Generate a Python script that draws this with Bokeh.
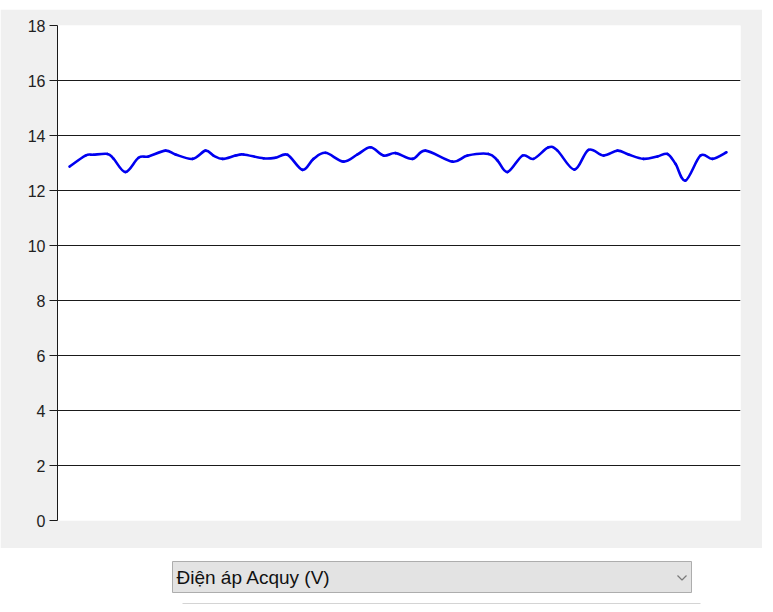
from bokeh.plotting import figure
from bokeh.models import Range1d, FixedTicker, Spacer
from bokeh.layouts import column
from bokeh.core.properties import value
from bokeh.embed import file_html
from bokeh.resources import INLINE

# ---- data (time in s, battery voltage in V) ----
times = [1.2, 2.8, 3.6, 5.0, 5.6, 6.8, 8.1, 9.1, 10.8, 11.8, 13.5, 14.8, 15.6, 16.5,
         17.8, 18.6, 20.6, 21.8, 23.0, 24.5, 25.6, 26.8, 28.6, 30.0, 31.3, 32.6, 33.8,
         35.5, 36.8, 39.5, 41.0, 43.1, 44.0, 45.0, 46.5, 47.6, 49.1, 50.0, 51.7, 53.1,
         54.6, 56.0, 57.1, 58.6, 60.0, 61.0, 61.8, 62.8, 64.3, 65.5, 66.9]
volts = [12.87, 13.27, 13.30, 13.33, 13.16, 12.67, 13.19, 13.24, 13.45, 13.31, 13.15,
         13.45, 13.27, 13.15, 13.27, 13.31, 13.17, 13.19, 13.30, 12.75, 13.15, 13.37,
         13.05, 13.31, 13.57, 13.27, 13.36, 13.15, 13.45, 13.05, 13.27, 13.33, 13.09,
         12.67, 13.27, 13.15, 13.57, 13.45, 12.76, 13.48, 13.27, 13.45, 13.31, 13.15,
         13.24, 13.33, 12.97, 12.36, 13.27, 13.15, 13.39]
y_ticks = [0, 2, 4, 6, 8, 10, 12, 14, 16, 18]
selector_label = "Điện áp Acquy (V)"

# ---- spline (Catmull-Rom -> cubic Bezier) control points from the data ----
n = len(times)
x0, y0, x1, y1, cx0, cy0, cx1, cy1 = [], [], [], [], [], [], [], []
for i in range(n - 1):
    a = i - 1 if i > 0 else i
    d = i + 2 if i + 2 < n else i + 1
    x0.append(times[i]); y0.append(volts[i])
    x1.append(times[i + 1]); y1.append(volts[i + 1])
    cx0.append(times[i] + (times[i + 1] - times[a]) / 6)
    cy0.append(volts[i] + (volts[i + 1] - volts[a]) / 6)
    cx1.append(times[i + 1] - (times[d] - times[i]) / 6)
    cy1.append(volts[i + 1] - (volts[d] - volts[i]) / 6)

FONT = "Liberation Sans"

p = figure(width=762, height=539, output_backend="svg", toolbar_location=None,
           x_range=Range1d(0, 68.3), y_range=Range1d(0, 18),
           min_border_left=57, min_border_right=22, min_border_top=16, min_border_bottom=28)
p.background_fill_color = "white"
p.border_fill_color = "#f0f0f0"
p.outline_line_color = None
p.xaxis.visible = False
p.xgrid.visible = False
p.ygrid.grid_line_color = "#1a1a1a"
p.ygrid.grid_line_width = 1
p.yaxis.ticker = FixedTicker(ticks=y_ticks)
p.yaxis.axis_line_color = "#1a1a1a"
p.yaxis.major_tick_line_color = "#1a1a1a"
p.yaxis.major_tick_out = 8
p.yaxis.major_tick_in = 0
p.yaxis.minor_tick_line_color = None
p.yaxis.major_label_standoff = 4
p.yaxis.major_label_text_font = FONT
p.yaxis.major_label_text_font_size = "16px"
p.yaxis.major_label_text_color = "#222222"

p.bezier(x0=x0, y0=y0, x1=x1, y1=y1, cx0=cx0, cy0=cy0, cx1=cx1, cy1=cy1,
         line_color="#0000f0", line_width=2.6, line_cap="round")

# ---- combobox below the chart (frame aligned with the chart frame: x 57..740) ----
q = figure(width=762, height=64, output_backend="svg", toolbar_location=None,
           x_range=Range1d(57, 740), y_range=Range1d(612, 548),
           min_border_left=57, min_border_right=22, min_border_top=0, min_border_bottom=0)
q.axis.visible = False
q.grid.visible = False
q.outline_line_color = None
q.background_fill_color = "white"
q.border_fill_color = "white"
q.quad(left=[172], right=[691], top=[561], bottom=[592],
       fill_color="#e3e3e3", line_color="#adadad", line_width=1)
q.text(x=[176], y=[577], text=[selector_label], text_font=value(FONT),
       text_font_size="19px", text_baseline="middle", text_align="left",
       text_color="#111111")
q.line(x=[677, 681.5, 686], y=[575, 579.5, 575], line_color="#7a7a7a", line_width=1.2)
q.segment(x0=[182], y0=[603], x1=[700], y1=[603], line_color="#d4d4d4", line_width=1)

layout = column(Spacer(height=9, width=762), p, q, spacing=0)
open("out.html", "w").write(file_html(layout, INLINE))
